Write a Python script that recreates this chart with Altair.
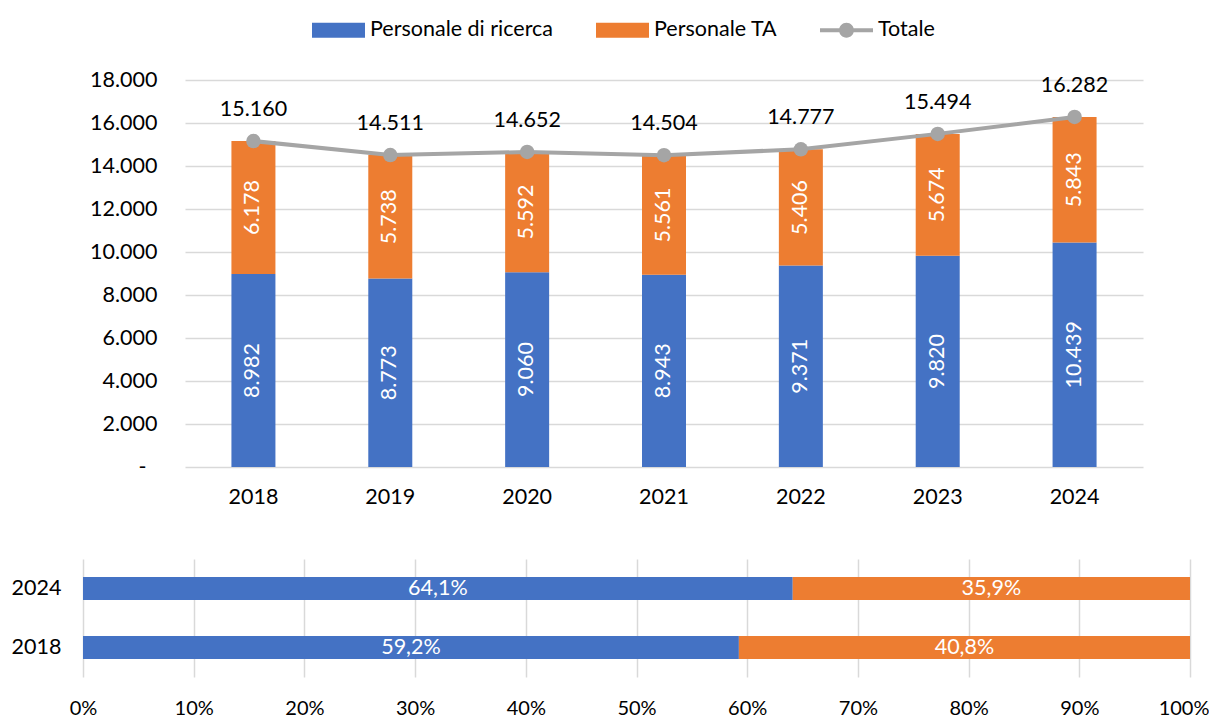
import altair as alt
import pandas as pd

# ---------------- data ----------------
anni = ["2018", "2019", "2020", "2021", "2022", "2023", "2024"]
ricerca = [8982, 8773, 9060, 8943, 9371, 9820, 10439]
personale_ta = [6178, 5738, 5592, 5561, 5406, 5674, 5843]
serie = ["Personale di ricerca", "Personale TA", "Totale"]
colori = ["#4472C4", "#ED7D31", "#A5A5A5"]
y_ticks = [0, 2000, 4000, 6000, 8000, 10000, 12000, 14000, 16000, 18000]
anni_quota = ["2024", "2018"]
pct_ticks = [0, 0.1, 0.2, 0.3, 0.4, 0.5, 0.6, 0.7, 0.8, 0.9, 1.0]

FONT = "Lato"
FS = 21.5

totale = [r + t for r, t in zip(ricerca, personale_ta)]

df_bar = pd.DataFrame({
    "anno": anni * 2,
    "serie": [serie[0]] * len(anni) + [serie[1]] * len(anni),
    "valore": ricerca + personale_ta,
    "ordine": [0] * len(anni) + [1] * len(anni),
    "centro": [r / 2 for r in ricerca] + [r + t / 2 for r, t in zip(ricerca, personale_ta)],
})
df_tot = pd.DataFrame({"anno": anni, "serie": serie[2], "valore": totale})

rows = []
for a in anni_quota:
    i = anni.index(a)
    q1 = ricerca[i] / totale[i]
    q2 = personale_ta[i] / totale[i]
    rows.append({"anno": a, "serie": serie[0], "quota": q1, "ordine": 0, "centro": q1 / 2})
    rows.append({"anno": a, "serie": serie[1], "quota": q2, "ordine": 1, "centro": q1 + q2 / 2})
df_quota = pd.DataFrame(rows)

# ---------------- top chart ----------------
shape_expr = ("datum.value === 'Totale' ? "
              "'M-1,-0.075H1V0.075H-1Z M-0.28,0A0.28,0.28 0 1,1 0.28,0A0.28,0.28 0 1,1 -0.28,0Z' : "
              "'M-1,-0.283H1V0.283H-1Z'")

legend = alt.Legend(
    title=None, orient="none", legendX=229, legendY=-60, direction="horizontal",
    columns=3, symbolType=alt.ExprRef(expr=shape_expr), symbolSize=2809,
    symbolStrokeWidth=0, symbolOpacity=1, labelFont=FONT, labelFontSize=FS,
    labelColor="black", columnPadding=42, labelOffset=5, labelLimit=400,
    clipHeight=20,
)
color_top = alt.Color("serie:N", scale=alt.Scale(domain=serie, range=colori), legend=legend)

x_top = alt.X(
    "anno:N", sort=anni, scale=alt.Scale(paddingInner=0, paddingOuter=0),
    axis=alt.Axis(title=None, labelAngle=0, ticks=False, domain=False, labelPadding=19),
)
y_axis = alt.Axis(
    values=y_ticks, title=None, format=",d",
    labelExpr="datum.value === 0 ? '-\u00a0\u00a0\u200b' : datum.label",
    domain=False, ticks=False, grid=True, labelPadding=28, minExtent=100,
)
y_scale = alt.Scale(domain=[0, 18000], nice=False)

bars = alt.Chart(df_bar).mark_bar(size=44).encode(
    x=x_top,
    y=alt.Y("valore:Q", stack="zero", scale=y_scale, axis=y_axis),
    color=color_top,
    order=alt.Order("ordine:Q", sort="ascending"),
)
bar_text = alt.Chart(df_bar).mark_text(
    angle=270, color="white", font=FONT, fontSize=FS, align="center", baseline="middle"
).encode(
    x=x_top,
    y=alt.Y("centro:Q", scale=y_scale, axis=y_axis),
    text=alt.Text("valore:Q", format=",d"),
)
line = alt.Chart(df_tot).mark_line(
    strokeWidth=4, point=alt.OverlayMarkDef(filled=True, size=210, opacity=1)
).encode(
    x=x_top,
    y=alt.Y("valore:Q", scale=y_scale, axis=y_axis),
    color=color_top,
)
tot_text = alt.Chart(df_tot).mark_text(
    color="black", font=FONT, fontSize=FS, align="center", baseline="middle", dy=-31
).encode(
    x=x_top,
    y=alt.Y("valore:Q", scale=y_scale, axis=y_axis),
    text=alt.Text("valore:Q", format=",d"),
)

top = alt.layer(bars, bar_text, line, tot_text).properties(width=958, height=387)

# empty spacer that shifts the upper panel to the right of the lower one
spacer = alt.Chart(pd.DataFrame({"t": [""]})).mark_text().encode(
    text="t:N"
).properties(width=2, height=387)

# ---------------- bottom chart ----------------
x_bot_scale = alt.Scale(domain=[0, 1], nice=False)
x_bot_axis = alt.Axis(
    values=pct_ticks, format=".0%", title=None, domain=False,
    ticks=False, grid=True, labelPadding=21, labelFlush=False, labelFontSize=20,
    labelAlign=alt.ExprRef(expr="datum.value === 1 ? 'right' : 'center'"),
    labelOffset=alt.ExprRef(expr="datum.value === 1 ? 19 : 0"),
)
y_bot = alt.Y("anno:N", sort=anni_quota, scale=alt.Scale(paddingInner=0, paddingOuter=0),
              axis=alt.Axis(title=None, ticks=False, domain=False, labelPadding=22, minExtent=72))

qbars = alt.Chart(df_quota).mark_bar(size=23).encode(
    x=alt.X("quota:Q", stack="zero", scale=x_bot_scale, axis=x_bot_axis),
    y=y_bot,
    color=alt.Color("serie:N", scale=alt.Scale(domain=serie[:2], range=colori[:2]), legend=None),
    order=alt.Order("ordine:Q", sort="ascending"),
)
qtext = alt.Chart(df_quota).mark_text(
    color="white", font=FONT, fontSize=FS, align="center", baseline="middle"
).encode(
    x=alt.X("centro:Q", scale=x_bot_scale, axis=x_bot_axis),
    y=y_bot,
    text=alt.Text("quota:Q", format=".1%"),
)
bottom = alt.layer(qbars, qtext).properties(width=1107, height=118)

upper = alt.hconcat(spacer, top, spacing=0)

chart = alt.vconcat(upper, bottom, spacing=51).resolve_scale(
    color="independent"
).resolve_legend(color="independent").properties(
    padding={"top": 12, "left": 3, "right": 0, "bottom": 0}
).configure(
    font=FONT,
    locale={"number": {"decimal": ",", "thousands": ".", "grouping": [3], "currency": ["", " €"]}},
).configure_view(stroke=None).configure_axis(
    labelFont=FONT, labelFontSize=FS, labelColor="black",
    gridColor="#D9D9D9", gridWidth=1.5,
)

chart.save("out.html", embed_options={"renderer": "svg", "actions": False})
